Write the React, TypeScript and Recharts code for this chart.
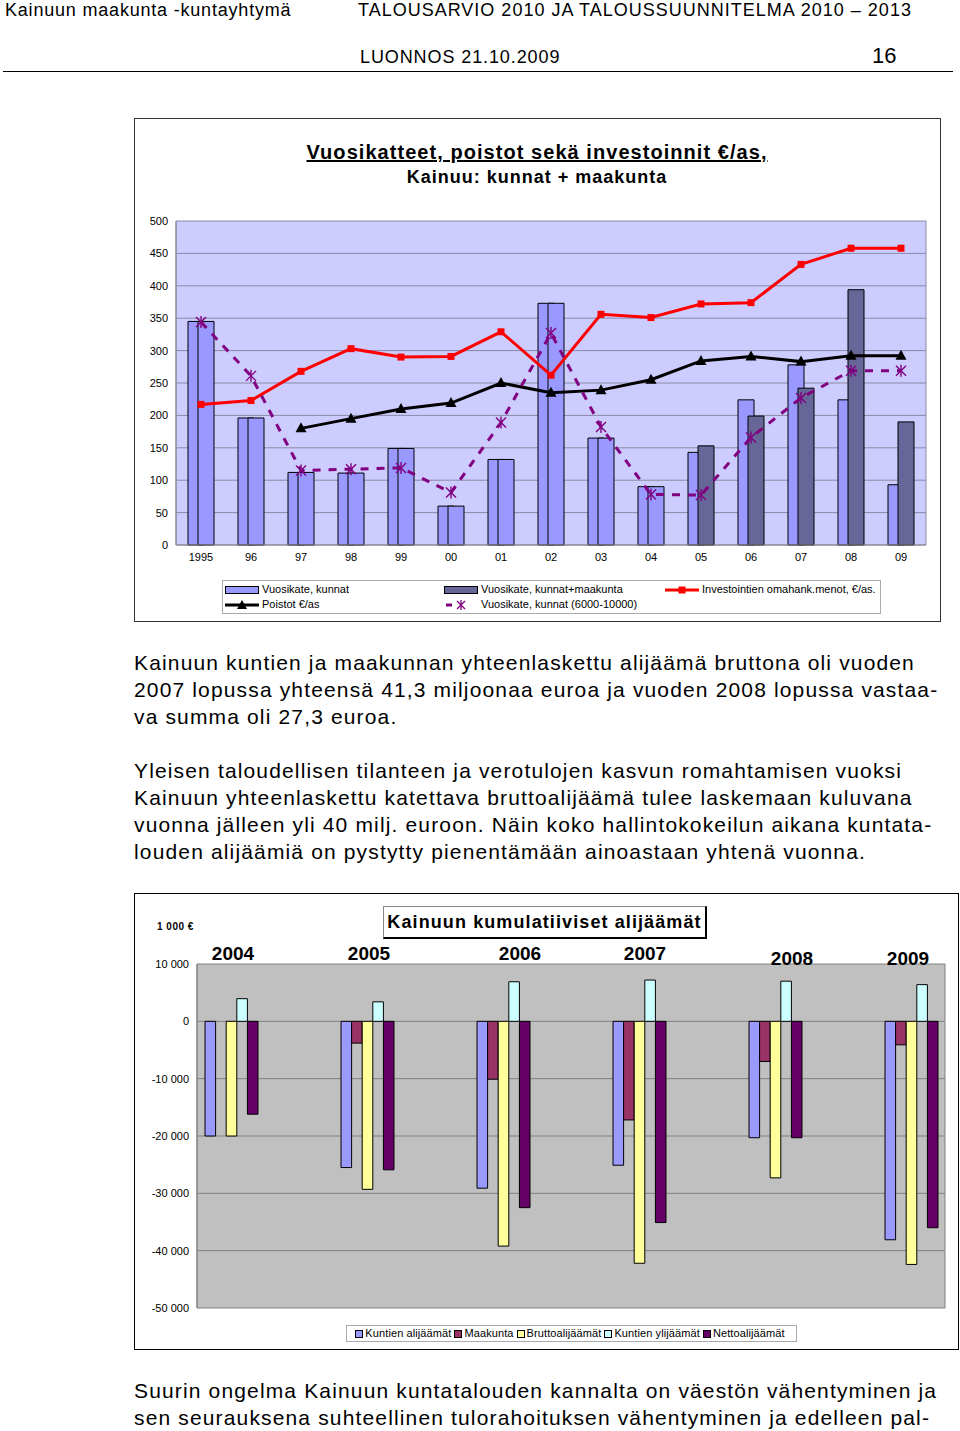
import React from 'react';
import { ComposedChart, BarChart, Bar, Line, XAxis, YAxis, CartesianGrid, Cell } from 'recharts';

const FONT = '"Liberation Sans", Arial, sans-serif';

// chart 1: Vuosikatteet, poistot sekä investoinnit €/as
const years = ['1995', '96', '97', '98', '99', '00', '01', '02', '03', '04', '05', '06', '07', '08', '09'];
const vuosikateKunnat = [345, 196, 112, 111, 149, 60, 132, 373, 165, 90, 143, 224, 278, 224, 93];
const vuosikateKunnatMaakunta = [345, 196, 112, 111, 149, 60, 132, 373, 165, 90, 153, 199, 242, 394, 190];
const investoinnit = [217, 223, 268, 303, 290, 291, 329, 262, 356, 351, 372, 374, 433, 458, 458];
const poistot = [null, null, 180, 195, 210, 219, 250, 235, 239, 255, 284, 291, 283, 292, 292];
const vuosikate6000 = [344, 261, 115, 117, 119, 81, 189, 327, 182, 78, 77, 166, 227, 269, 269];
const ticks1 = [0, 50, 100, 150, 200, 250, 300, 350, 400, 450, 500];

// chart 2: Kainuun kumulatiiviset alijäämät (1 000 €)
const vuodet = ['2004', '', '2005', '', '2006', '', '2007', '', '2008', '', '2009'];
const kuntienAlijaamat = [-20000, null, -25500, null, -29100, null, -25100, null, -20300, null, -38100];
const maakunta = [null, null, -3800, null, -10100, null, -17200, null, -7000, null, -4100];
const bruttoalijaamat = [-20000, null, -29300, null, -39200, null, -42200, null, -27300, null, -42400];
const kuntienYlijaamat = [3950, null, 3400, null, 6900, null, 7200, null, 7000, null, 6400];
const nettoalijaamat = [-16200, null, -25900, null, -32500, null, -35100, null, -20300, null, -36000];
const ticks2 = [10000, 0, -10000, -20000, -30000, -40000, -50000];

const data1 = years.map((y, i) => ({
  year: y,
  kunnat: vuosikateKunnat[i],
  kunnatMaakunta: vuosikateKunnatMaakunta[i],
  invest: investoinnit[i],
  poistot: poistot[i],
  v6000: vuosikate6000[i],
}));

const data2 = vuodet.map((v, i) => ({
  vuosi: v,
  kunnat: kuntienAlijaamat[i],
  maakunta: maakunta[i],
  brutto: bruttoalijaamat[i],
  yli: kuntienYlijaamat[i],
  netto: nettoalijaamat[i],
}));

const LIGHT = '#9999FF';
const DARK = '#666699';
const PURPLE = '#800080';

const SquareDot = (p: any) =>
  p.cy == null || p.value == null ? <g key={p.key} /> : (
    <rect key={p.key} x={p.cx - 3.5} y={p.cy - 3.5} width={7} height={7} fill="#FF0000" />
  );

const TriangleDot = (p: any) =>
  p.cy == null || p.value == null ? <g key={p.key} /> : (
    <polygon key={p.key} points={`${p.cx},${p.cy - 6} ${p.cx - 5.5},${p.cy + 4} ${p.cx + 5.5},${p.cy + 4}`} fill="#000" />
  );

const StarDot = (p: any) =>
  p.cy == null || p.value == null ? <g key={p.key} /> : (
    <g key={p.key} stroke={PURPLE} strokeWidth={1.4}>
      <line x1={p.cx - 5} y1={p.cy - 5} x2={p.cx + 5} y2={p.cy + 5} />
      <line x1={p.cx - 5} y1={p.cy + 5} x2={p.cx + 5} y2={p.cy - 5} />
      <line x1={p.cx} y1={p.cy - 6} x2={p.cx} y2={p.cy + 6} />
    </g>
  );

// year labels in chart 2 sit as loose text boxes above the plot
const yearShift: Record<string, [number, number]> = {
  '2004': [2, 0], '2005': [2, 0], '2006': [17, 0], '2007': [6, 0], '2008': [17, 5], '2009': [-3, 5],
};
const YearTick = (p: any) => {
  const v = p.payload?.value;
  if (!v) return <g />;
  const [dx, dy] = yearShift[v] || [0, 0];
  return (
    <text x={p.x + dx} y={p.y + 4 + dy} textAnchor="middle" fontSize={19} fontWeight="bold" fill="#000" fontFamily={FONT}>
      {v}
    </text>
  );
};

const fmt = (v: number) => {
  const s = Math.abs(v).toString().replace(/\B(?=(\d{3})+(?!\d))/g, ' ');
  return v < 0 ? '-' + s : s;
};

const edges = ({ offset }: any) => [offset.left, offset.left + offset.width];

const abs = (left: number, top: number, extra: React.CSSProperties = {}): React.CSSProperties => ({
  position: 'absolute', left, top, whiteSpace: 'pre', ...extra,
});

const para: React.CSSProperties = { fontSize: 21, lineHeight: '27px', color: '#000', letterSpacing: 1.15 };

const BoxSwatch = ({ fill }: { fill: string }) => (
  <svg width={34} height={10} style={{ verticalAlign: 'middle', marginRight: 3 }}>
    <rect x={0.5} y={1.5} width={33} height={7} fill={fill} stroke="#000" />
  </svg>
);

export default function App() {
  return (
    <div style={{ position: 'absolute', left: 0, top: 0, width: 960, height: 1431, background: '#fff', fontFamily: FONT, overflow: 'hidden' }}>
      {/* page header */}
      <div style={abs(5, 0, { fontSize: 18, lineHeight: '20px', letterSpacing: 0.8 })}>Kainuun maakunta -kuntayhtymä</div>
      <div style={abs(358, 0, { fontSize: 18, lineHeight: '20px', letterSpacing: 1.0 })}>TALOUSARVIO 2010 JA TALOUSSUUNNITELMA 2010 – 2013</div>
      <div style={abs(360, 47, { fontSize: 18, lineHeight: '20px', letterSpacing: 0.9 })}>LUONNOS 21.10.2009</div>
      <div style={abs(872, 44, { fontSize: 22, lineHeight: '24px' })}>16</div>
      <div style={{ position: 'absolute', left: 3, top: 71, width: 950, height: 1, background: '#000' }} />

      {/* chart 1 */}
      <div style={{ position: 'absolute', left: 134, top: 118, width: 805, height: 502, border: '1px solid #333' }} />
      <div style={abs(134, 140, { width: 806, textAlign: 'center', fontSize: 20, fontWeight: 'bold', lineHeight: '24px', letterSpacing: 1.05 })}>
        <span style={{ textDecoration: 'underline' }}>Vuosikatteet, poistot sekä investoinnit €/as,</span>
      </div>
      <div style={abs(134, 166, { width: 806, textAlign: 'center', fontSize: 18, fontWeight: 'bold', lineHeight: '22px', letterSpacing: 1.0 })}>
        Kainuu: kunnat + maakunta
      </div>
      <div style={{ position: 'absolute', left: 130, top: 200 }}>
        <ComposedChart width={810} height={380} data={data1} margin={{ top: 21, right: 14, bottom: 0, left: 0 }} barGap={-6}>
          <CartesianGrid fill="#CCCCFF" stroke="#8a8aa6" verticalCoordinatesGenerator={edges} />
          <XAxis dataKey="year" interval={0} height={35} tickLine={false} axisLine={{ stroke: '#888' }}
            tick={{ fontSize: 11, fill: '#000', fontFamily: FONT }} />
          <YAxis width={46} domain={[0, 500]} ticks={ticks1} interval={0} tickLine={false} axisLine={{ stroke: '#888' }}
            tick={{ fontSize: 11, fill: '#000', fontFamily: FONT }} />
          <Bar dataKey="kunnat" barSize={16} fill={LIGHT} stroke="#000" strokeWidth={1} isAnimationActive={false} />
          <Bar dataKey="kunnatMaakunta" barSize={16} fill={DARK} stroke="#000" strokeWidth={1} isAnimationActive={false}>
            {data1.map((d, i) => (
              <Cell key={i} fill={i < 10 ? LIGHT : DARK} />
            ))}
          </Bar>
          <Line dataKey="invest" stroke="#FF0000" strokeWidth={3} dot={SquareDot} activeDot={false} isAnimationActive={false} />
          <Line dataKey="poistot" stroke="#000" strokeWidth={3} dot={TriangleDot} activeDot={false} isAnimationActive={false} />
          <Line dataKey="v6000" stroke={PURPLE} strokeWidth={3} strokeDasharray="8 8" dot={StarDot} activeDot={false} isAnimationActive={false} />
        </ComposedChart>
      </div>
      {/* chart 1 legend */}
      <div style={{ position: 'absolute', left: 222, top: 580, width: 657, height: 32, border: '1px solid #aaa', fontSize: 11, lineHeight: '15px' }}>
        <div style={abs(2, 1)}><BoxSwatch fill={LIGHT} />Vuosikate, kunnat</div>
        <div style={abs(221, 1)}><BoxSwatch fill={DARK} />Vuosikate, kunnat+maakunta</div>
        <div style={abs(442, 1)}>
          <svg width={34} height={10} style={{ verticalAlign: 'middle', marginRight: 3 }}>
            <line x1={0} y1={5} x2={34} y2={5} stroke="#FF0000" strokeWidth={3} />
            <rect x={13.5} y={1.5} width={7} height={7} fill="#FF0000" />
          </svg>
          Investointien omahank.menot, €/as.
        </div>
        <div style={abs(2, 16)}>
          <svg width={34} height={10} style={{ verticalAlign: 'middle', marginRight: 3 }}>
            <line x1={0} y1={5} x2={34} y2={5} stroke="#000" strokeWidth={3} />
            <polygon points="17,0 12,9 22,9" fill="#000" />
          </svg>
          Poistot €/as
        </div>
        <div style={abs(221, 16)}>
          <svg width={34} height={10} style={{ verticalAlign: 'middle', marginRight: 3 }}>
            <line x1={2} y1={5} x2={8} y2={5} stroke={PURPLE} strokeWidth={3} />
            <g stroke={PURPLE} strokeWidth={1.3}>
              <line x1={13} y1={1} x2={21} y2={9} />
              <line x1={13} y1={9} x2={21} y2={1} />
              <line x1={17} y1={0} x2={17} y2={10} />
            </g>
          </svg>
          Vuosikate, kunnat (6000-10000)
        </div>
      </div>

      {/* text */}
      <div style={abs(134, 649, para)}>
        {'Kainuun kuntien ja maakunnan yhteenlaskettu alijäämä bruttona oli vuoden\n2007 lopussa yhteensä 41,3 miljoonaa euroa ja vuoden 2008 lopussa vastaa-\nva summa oli 27,3 euroa.'}
      </div>
      <div style={abs(134, 757, para)}>
        {'Yleisen taloudellisen tilanteen ja verotulojen kasvun romahtamisen vuoksi\nKainuun yhteenlaskettu katettava bruttoalijäämä tulee laskemaan kuluvana\nvuonna jälleen yli 40 milj. euroon. Näin koko hallintokokeilun aikana kuntata-\nlouden alijäämiä on pystytty pienentämään ainoastaan yhtenä vuonna.'}
      </div>

      {/* chart 2 */}
      <div style={{ position: 'absolute', left: 134, top: 893, width: 823, height: 455, border: '1px solid #000' }} />
      <div style={abs(157, 921, { fontSize: 10, fontWeight: 'bold', lineHeight: '12px', letterSpacing: 0.5 })}>1 000 €</div>
      <div style={{ position: 'absolute', left: 383, top: 906, width: 321, height: 30, border: '1px solid #888', borderRight: '2px solid #000', borderBottom: '2px solid #000', background: '#fff' }}>
        <div style={{ textAlign: 'center', fontSize: 18, fontWeight: 'bold', lineHeight: '30px', letterSpacing: 1.1 }}>Kainuun kumulatiiviset alijäämät</div>
      </div>
      <div style={{ position: 'absolute', left: 134, top: 942 }}>
        <BarChart width={824} height={371} data={data2} margin={{ top: 0, right: 13, bottom: 5, left: 0 }} barGap={0}>
          <CartesianGrid fill="#C0C0C0" stroke="#808080" verticalCoordinatesGenerator={edges} />
          <XAxis dataKey="vuosi" orientation="top" height={22} interval={0} tickLine={false} axisLine={false} tick={YearTick} />
          <YAxis width={63} domain={[-50000, 10000]} ticks={ticks2} interval={0} tickLine={false} axisLine={{ stroke: '#808080' }}
            tickFormatter={fmt} tick={{ fontSize: 11, fill: '#000', fontFamily: FONT }} />
          <Bar dataKey="kunnat" barSize={10.6} fill="#9999FF" stroke="#000" strokeWidth={1} isAnimationActive={false} />
          <Bar dataKey="maakunta" barSize={10.6} fill="#993366" stroke="#000" strokeWidth={1} isAnimationActive={false} />
          <Bar dataKey="brutto" barSize={10.6} fill="#FFFF99" stroke="#000" strokeWidth={1} isAnimationActive={false} />
          <Bar dataKey="yli" barSize={10.6} fill="#CCFFFF" stroke="#000" strokeWidth={1} isAnimationActive={false} />
          <Bar dataKey="netto" barSize={10.6} fill="#660066" stroke="#000" strokeWidth={1} isAnimationActive={false} />
        </BarChart>
      </div>
      {/* chart 2 legend */}
      <div style={{ position: 'absolute', left: 346, top: 1325, width: 449, height: 15, border: '1px solid #aaa', fontSize: 11, lineHeight: '15px', textAlign: 'center', letterSpacing: 0.1 }}>
        {[
          ['#9999FF', 'Kuntien alijäämät'],
          ['#993366', 'Maakunta'],
          ['#FFFF99', 'Bruttoalijäämät'],
          ['#CCFFFF', 'Kuntien ylijäämät'],
          ['#660066', 'Nettoalijäämät'],
        ].map(([c, t]) => (
          <span key={t} style={{ marginRight: 3 }}>
            <span style={{ display: 'inline-block', width: 6, height: 6, background: c, border: '1px solid #000', marginRight: 2, verticalAlign: 'middle' }} />
            {t}
          </span>
        ))}
      </div>

      <div style={abs(134, 1377, para)}>
        {'Suurin ongelma Kainuun kuntatalouden kannalta on väestön vähentyminen ja\nsen seurauksena suhteellinen tulorahoituksen vähentyminen ja edelleen pal-'}
      </div>
    </div>
  );
}
